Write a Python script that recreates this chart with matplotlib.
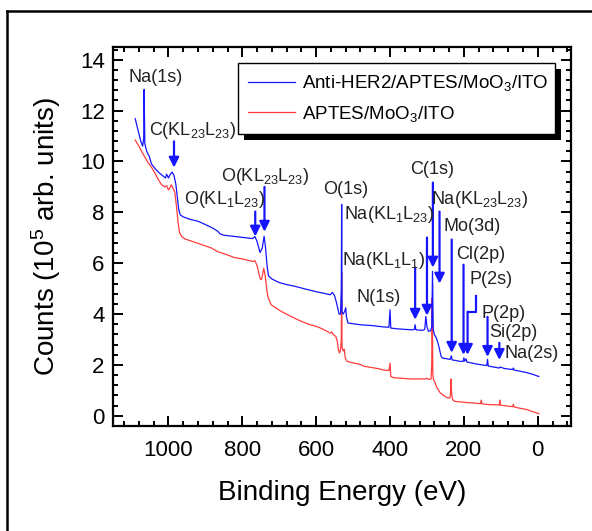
import matplotlib
matplotlib.use("Agg")
import matplotlib.pyplot as plt
from matplotlib.patches import Rectangle
from matplotlib.lines import Line2D
from matplotlib.ticker import MultipleLocator

plt.rcParams['font.family'] = ['Liberation Sans', 'DejaVu Sans']
plt.rcParams['mathtext.fontset'] = 'custom'
plt.rcParams['mathtext.rm'] = 'Liberation Sans'
plt.rcParams['mathtext.it'] = 'Liberation Sans:italic'
plt.rcParams['mathtext.bf'] = 'Liberation Sans:bold'

# ---------------- data ----------------
series_labels = ["Anti-HER2/APTES/MoO$_3$/ITO", "APTES/MoO$_3$/ITO"]

blue_energy = [1090, 1082, 1075, 1070, 1067, 1066, 1064, 1059, 1052, 1046, 1035, 1025, 1014,
               1008, 1005, 1000, 995, 990, 985, 980, 976, 972, 968, 960, 940, 920, 900, 880,
               866, 860, 850, 820, 790, 772, 766, 760, 752, 746, 741, 737, 733, 729, 720, 700,
               680, 660, 641, 620, 600, 580, 562, 556, 550, 545, 538, 534, 532, 531, 530, 527,
               523, 520, 518, 514, 500, 480, 450, 420, 403, 400, 398, 380, 360, 340, 334, 332,
               330, 312, 306, 303, 300, 296, 290, 287, 285, 283, 280, 276, 273, 269, 265, 262,
               258, 245, 237, 234, 232, 220, 210, 202, 200, 198, 194, 192, 180, 170, 150, 138,
               136, 134, 120, 104, 102, 90, 68, 66, 64, 50, 30, 15, 0, -3]
blue_counts = [11.68, 11.2, 10.8, 10.6, 10.9, 12.83, 10.7, 10.4, 10.2, 9.9, 9.7, 9.55, 9.42,
               9.35, 9.5, 9.35, 9.5, 9.58, 9.45, 9.1, 8.6, 8.1, 7.9, 7.82, 7.72, 7.65, 7.52, 7.38,
               7.25, 7.15, 7.1, 7.05, 7.0, 6.97, 7.05, 6.85, 6.42, 6.6, 7.06, 6.6, 5.9, 5.5, 5.38, 5.24,
               5.16, 5.1, 5.03, 4.95, 4.88, 4.82, 4.76, 4.85, 4.72, 4.45, 4.0, 4.0, 5.0, 8.31, 4.1, 4.0,
               4.1, 4.25, 3.9, 3.65, 3.62, 3.58, 3.55, 3.5, 3.48, 4.17, 3.45, 3.42, 3.4, 3.38, 3.4, 3.58,
               3.38, 3.36, 3.4, 3.91, 3.5, 3.32, 3.35, 3.5, 5.68, 3.4, 3.2, 3.1, 3.0, 2.8, 2.55, 2.35,
               2.27, 2.24, 2.22, 2.36, 2.2, 2.17, 2.14, 2.14, 2.28, 2.15, 2.24, 2.12, 2.08, 2.05, 2.0, 1.98,
               2.22, 1.96, 1.92, 1.88, 1.92, 1.86, 1.82, 1.88, 1.8, 1.76, 1.7, 1.64, 1.56, 1.55]

red_energy = [1090, 1080, 1073, 1065, 1055, 1045, 1037, 1028, 1019, 1010, 1005, 1000, 995, 992,
              988, 983, 978, 974, 970, 964, 955, 940, 920, 900, 884, 866, 845, 821, 800, 780,
              772, 766, 760, 752, 748, 742, 738, 734, 731, 726, 722, 710, 695, 670, 650, 641,
              620, 600, 588, 570, 562, 558, 554, 547, 543, 540, 537, 534, 532, 531, 530, 527,
              524, 521, 516, 500, 480, 471, 450, 430, 417, 403, 400, 398, 390, 370, 345, 330,
              305, 300, 296, 289, 287, 286, 284, 282, 278, 273, 268, 264, 255, 246, 238, 236,
              235, 233, 230, 225, 210, 190, 170, 155, 153, 151, 130, 104, 103, 101, 80, 67,
              66, 64, 49, 30, 15, 0, -3]
red_counts = [10.84, 10.6, 10.4, 10.2, 9.95, 9.75, 9.55, 9.3, 9.09, 9.0, 9.05, 8.88, 9.0, 9.08,
              8.95, 8.8, 8.2, 7.6, 7.2, 7.05, 6.95, 6.88, 6.78, 6.68, 6.6, 6.45, 6.35, 6.22, 6.17, 6.1,
              6.07, 6.1, 5.9, 5.4, 5.35, 5.8, 5.5, 5.0, 4.7, 4.5, 4.37, 4.25, 4.11, 3.92, 3.78, 3.72,
              3.6, 3.52, 3.45, 3.32, 3.25, 3.3, 3.2, 3.12, 2.95, 2.6, 2.47, 2.6, 3.0, 5.65, 2.7, 2.55,
              2.62, 2.25, 2.14, 2.08, 2.02, 1.95, 1.9, 1.85, 1.8, 1.78, 2.07, 1.55, 1.5, 1.48, 1.45, 1.45,
              1.45, 1.48, 1.43, 1.45, 2.0, 4.63, 1.6, 1.4, 1.3, 1.1, 1.0, 0.9, 0.8, 0.72, 0.7, 0.9,
              1.45, 0.85, 0.62, 0.57, 0.55, 0.52, 0.5, 0.48, 0.62, 0.47, 0.44, 0.43, 0.62, 0.42, 0.38, 0.36,
              0.45, 0.35, 0.3, 0.25, 0.17, 0.1, 0.08]

x_ticks = [1000, 800, 600, 400, 200, 0]
y_ticks = [0, 2, 4, 6, 8, 10, 12, 14]

# peak annotations: label, text x, text y, arrow x, arrow y start, arrow y end (None = no arrow)
ann_labels = ["Na(1s)", "C(KL$_{23}$L$_{23}$)", "O(KL$_1$L$_{23}$)", "O(KL$_{23}$L$_{23}$)",
              "O(1s)", "Na(KL$_1$L$_{23}$)", "Na(KL$_1$L$_1$)", "N(1s)", "C(1s)",
              "Na(KL$_{23}$L$_{23}$)", "Mo(3d)", "Cl(2p)", "P(2s)", "P(2p)", "Si(2p)", "Na(2s)"]
ann_text_x = [1035, 935, 849, 739, 520, 402, 418, 431, 286, 156, 178, 154, 127, 92, 67, 16]
ann_text_y = [13.3, 11.22, 8.5, 9.41, 8.9, 7.91, 6.1, 4.65, 9.69, 8.5, 7.44, 6.34, 5.35, 4.02, 3.27, 2.44]
ann_arrow_x = [None, 985, 765, 740, None, 300, 332, None, 284, 266, 233, 201, 190, 136, 104, None]
ann_arrow_y0 = [None, 10.79, 8.03, 9.0, None, 7.01, 5.83, None, 9.17, 8.03, 6.93, 5.94, 4.09, 3.89, 2.87, None]
ann_arrow_y1 = [None, 9.76, 7.05, 7.24, None, 3.94, 3.78, None, 5.83, 5.2, 2.48, 2.4, 2.4, 2.32, 2.2, None]
# P(2s) leader: from text down, then sideways to the arrow
p2s_leader_x = [167, 167, 190]
p2s_leader_y = [4.72, 4.09, 4.09]

BLUE = "#1515ff"
RED = "#ff3c3c"

fig = plt.figure(figsize=(5.92, 5.31), dpi=100)
ax = fig.add_axes([0.191, 0.1977, 0.7735, 0.7138])

ax.plot(blue_energy, blue_counts, color=BLUE, lw=0.9, label=series_labels[0], zorder=3)
ax.plot(red_energy, red_counts, color=RED, lw=0.9, label=series_labels[1], zorder=2)

ax.set_xlim(1150, -90)
ax.set_ylim(-0.4, 14.5)
ax.set_xticks(x_ticks)
ax.set_yticks(y_ticks)
ax.xaxis.set_minor_locator(MultipleLocator(40))
ax.yaxis.set_minor_locator(MultipleLocator(0.4))
ax.tick_params(which='both', direction='in', top=True, right=True, width=1.4)
ax.tick_params(which='major', length=7, labelsize=16)
ax.tick_params(which='minor', length=3.5)
ax.tick_params(axis='x', which='major', pad=10)
ax.tick_params(axis='y', which='major', pad=6)
for s in ax.spines.values():
    s.set_linewidth(1.6)

ax.set_xlabel("Binding Energy (eV)", fontsize=20, labelpad=14)
ax.set_ylabel("Counts (10$^5$ arb. units)", fontsize=20, labelpad=12)

# annotations
for lab, tx, ty, axx, y0, y1 in zip(ann_labels, ann_text_x, ann_text_y, ann_arrow_x, ann_arrow_y0, ann_arrow_y1):
    ax.text(tx, ty, lab, fontsize=13, ha='center', va='center', color='#222222', zorder=6)
    if axx is not None:
        ax.annotate('', xy=(axx, y1), xytext=(axx, y0),
                    arrowprops=dict(arrowstyle='-|>', color=BLUE, lw=1.6, mutation_scale=15,
                                    shrinkA=0, shrinkB=0), zorder=5)
ax.plot(p2s_leader_x, p2s_leader_y, color=BLUE, lw=1.6, zorder=5)

# legend with black drop shadow
leg = ax.legend(loc='upper left', bbox_to_anchor=(0.273, 0.958, 0.692, 0.0), mode='expand',
                fontsize=13.5, frameon=True, fancybox=False, edgecolor='black',
                handlelength=2.5, handletextpad=0.35, labelspacing=0.55, borderpad=0.55,
                borderaxespad=0.0)
leg.get_frame().set_linewidth(1.0)
leg.get_frame().set_alpha(1)
fig.canvas.draw()
bb = leg.get_frame().get_window_extent().transformed(fig.transFigure.inverted())
off_x, off_y = 6 / 592, 6 / 531
shadow = Rectangle((bb.x0 + off_x, bb.y0 - off_y), bb.width, bb.height,
                   transform=fig.transFigure, facecolor='black', edgecolor='none',
                   zorder=4.5, clip_on=False)
ax.add_patch(shadow)
leg.set_zorder(7)

# outer frame (left and top edges visible)
fig.add_artist(Line2D([0.0125, 0.0125], [0.0, 0.979], color='black', lw=1.8, transform=fig.transFigure))
fig.add_artist(Line2D([0.0125, 1.0], [0.979, 0.979], color='black', lw=1.8, transform=fig.transFigure))

fig.savefig("out.png", dpi=100)
